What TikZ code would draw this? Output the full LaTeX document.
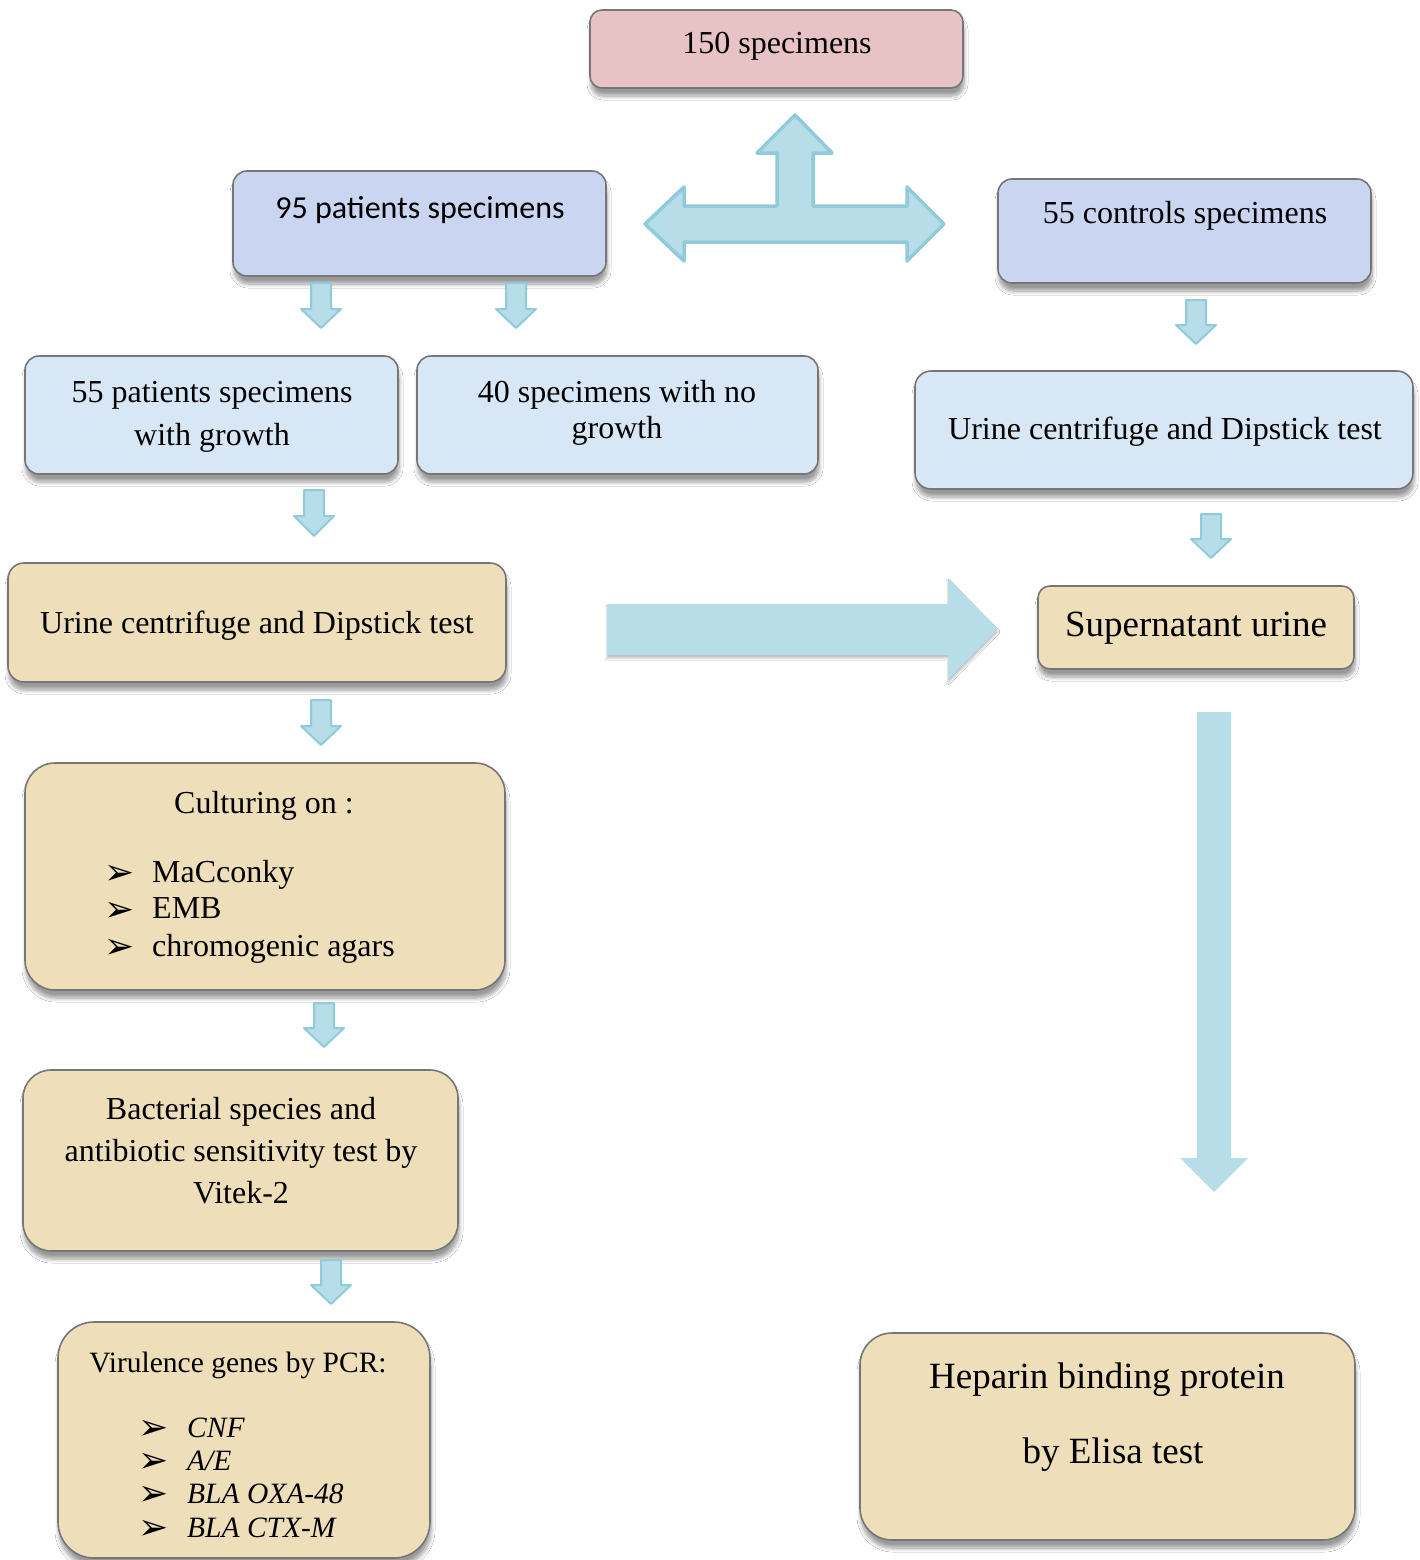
\documentclass[tikz,border=0pt]{standalone}
\usepackage{fontspec}
\setmainfont{Liberation Serif}
\newfontfamily\calfont{Carlito}
\newfontfamily\symfont{DejaVu Sans}
\usetikzlibrary{shadows.blur}
\definecolor{pinkc}{HTML}{E8C3C5}
\definecolor{lavc}{HTML}{CAD5F1}
\definecolor{lbluec}{HTML}{D8E7F6}
\definecolor{beigec}{HTML}{EEDEBA}
\definecolor{arrowfill}{HTML}{B7DDE8}
\definecolor{arrowline}{HTML}{90CBDB}
\definecolor{boxline}{HTML}{767676}
\newcommand\dnarrow[4]{\draw[blockarrow] (#1-10,#2) -- (#1+10,#2) -- (#1+10,#3) -- (#1+20,#3) -- (#1,#4) -- (#1-20,#3) -- (#1-10,#3) -- cycle;}
\begin{document}
\begin{tikzpicture}[x=1pt,y=-1pt,
  box/.style={draw=boxline, line width=1.6pt, inner sep=0pt, outer sep=0pt,
    blur shadow={shadow xshift=1pt, shadow yshift=-8pt, shadow blur radius=4pt, shadow blur steps=8, shadow opacity=40}},
  txt/.style={inner sep=0pt, anchor=base, font=\fontsize{32}{40}\selectfont},
  big/.style={font=\fontsize{37}{44}\selectfont},
  item/.style={inner sep=0pt, anchor=base west, font=\fontsize{32}{40}\selectfont},
  itemit/.style={inner sep=0pt, anchor=base west, font=\fontsize{29.5}{36}\selectfont\itshape},
  bul/.style={inner sep=0pt, anchor=base west, text height=16pt, text depth=0pt, font=\symfont\fontsize{36}{40}\selectfont},
  blockarrow/.style={fill=arrowfill, draw=arrowline, line width=2pt, line join=round}]
\useasboundingbox (0,0) rectangle (1420,1560);
\fill[white] (0,0) rectangle (1420,1560);

% boxes
\node[box, fill=pinkc, rounded corners=12pt, minimum width=373pt, minimum height=78pt] (b150) at (776.5,49) {};
\node[box, fill=lavc, rounded corners=14pt, minimum width=373pt, minimum height=105pt] (b95) at (419.5,223.5) {};
\node[box, fill=lavc, rounded corners=14pt, minimum width=373pt, minimum height=104pt] (b55c) at (1184.5,231) {};
\node[box, fill=lbluec, rounded corners=14pt, minimum width=373pt, minimum height=118pt] (b55p) at (211.5,415) {};
\node[box, fill=lbluec, rounded corners=14pt, minimum width=401pt, minimum height=118pt] (b40) at (617.5,415) {};
\node[box, fill=lbluec, rounded corners=16pt, minimum width=498pt, minimum height=118pt] (burR) at (1164,430) {};
\node[box, fill=beigec, rounded corners=16pt, minimum width=498pt, minimum height=119pt] (burL) at (257,622.5) {};
\node[box, fill=beigec, rounded corners=12pt, minimum width=316pt, minimum height=83pt] (bsup) at (1196,627.5) {};
\node[box, fill=beigec, rounded corners=30pt, minimum width=480pt, minimum height=227pt] (bcult) at (265,876.5) {};
\node[box, fill=beigec, rounded corners=28pt, minimum width=435pt, minimum height=181pt] (bbact) at (240.5,1160.5) {};
\node[box, fill=beigec, rounded corners=36pt, minimum width=372pt, minimum height=236pt] (bvir) at (244,1440) {};
\node[box, fill=beigec, rounded corners=32pt, minimum width=495pt, minimum height=207pt] (bhep) at (1107.5,1436.5) {};

% texts
\node[txt] (t150) at (777,54) {150 specimens};
\node[txt, font=\calfont\fontsize{32}{40}\selectfont] (t95) at (420,218) {95 patients specimens};
\node[txt] (t55c) at (1185,223) {55 controls specimens};
\node[txt] (turR) at (1165,439) {Urine centrifuge and Dipstick test};
\node[txt] (t55a) at (212,402) {55 patients specimens};
\node[txt] (t55b) at (212,445) {with growth};
\node[txt] (t40a) at (617,402) {40 specimens with no};
\node[txt] (t40b) at (617,438) {growth};
\node[txt] (turL) at (257,633) {Urine centrifuge and Dipstick test};
\node[txt, big] (tsup) at (1196,636) {Supernatant urine};
\node[txt] (tcult) at (264,813) {Culturing on :};
\node[bul] (c1b) at (104,884) {➢};
\node[item] (c1) at (152,882) {MaCconky};
\node[bul] (c2b) at (104,921) {➢};
\node[item] (c2) at (152,918) {EMB};
\node[bul] (c3b) at (104,958) {➢};
\node[item] (c3) at (152,956) {chromogenic agars};
\node[txt] (tb1) at (241,1119) {Bacterial species and};
\node[txt] (tb2) at (241,1161) {antibiotic sensitivity test by};
\node[txt] (tb3) at (241,1203) {Vitek-2};
\node[txt, font=\fontsize{29.5}{36}\selectfont] (tvir) at (238,1372) {Virulence genes by PCR:};
\node[bul] (v1b) at (138,1439) {➢};
\node[itemit] (v1) at (187,1437) {CNF};
\node[bul] (v2b) at (138,1472) {➢};
\node[itemit] (v2) at (187,1470) {A/E};
\node[bul] (v3b) at (138,1505) {➢};
\node[itemit] (v3) at (187,1503) {BLA OXA-48};
\node[bul] (v4b) at (138,1539) {➢};
\node[itemit] (v4) at (187,1537) {BLA CTX-M};
\node[txt, big] (th1) at (1107,1388) {Heparin binding protein};
\node[txt, big] (th2) at (1113,1463) {by Elisa test};

% three-way arrow
\draw[blockarrow, line width=3.5pt] (645,224) -- (684,187) -- (684,206) -- (777,206) -- (777,153) -- (757,153) -- (795,115) -- (832,153) -- (813,153) -- (813,206) -- (907,206) -- (907,187) -- (944,224) -- (907,261) -- (907,242) -- (684,242) -- (684,261) -- cycle;

% small arrows
\dnarrow{321}{283}{309}{328}
\dnarrow{516}{283}{309}{328}
\dnarrow{1196}{300}{325}{344}
\dnarrow{314}{490}{516}{536}
\dnarrow{1211}{514}{539}{558}
\dnarrow{321}{700}{726}{745}
\dnarrow{324}{1003}{1028}{1047}
\dnarrow{331}{1260}{1285}{1304}

% big right arrow
\fill[arrowfill, blur shadow={shadow xshift=0pt, shadow yshift=-3pt, shadow blur radius=2pt, shadow opacity=25}] (607,604) -- (948,604) -- (948,578) -- (998,629) -- (948,680) -- (948,655) -- (607,655) -- cycle;
% long down arrow
\fill[arrowfill] (1197,712) -- (1231,712) -- (1231,1158) -- (1248,1158) -- (1214,1192) -- (1180,1158) -- (1197,1158) -- cycle;
\end{tikzpicture}
\end{document}
